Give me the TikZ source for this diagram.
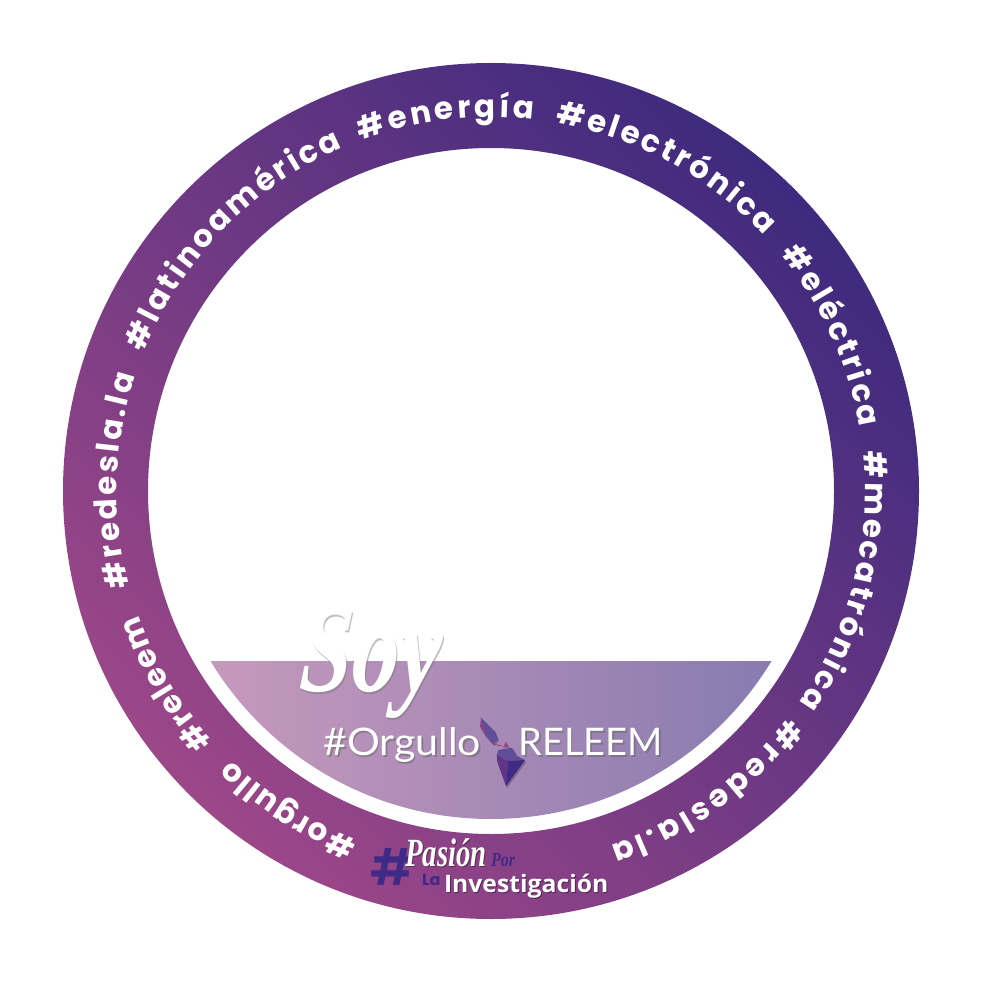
\documentclass[tikz,border=0pt]{standalone}
\usepackage{fontspec}
\setmainfont{Latin Modern Roman}
\newfontfamily\ringfont{Poppins}[UprightFont=* SemiBold,BoldFont=* Bold]
\newfontfamily\capfont{Lato}
\newfontfamily\invfont{Open Sans}
\newfontfamily\soyfont{Liberation Serif}
\usetikzlibrary{calc}
\definecolor{ringdark}{HTML}{3E2A7E}
\definecolor{ringlight}{HTML}{9C4788}
\definecolor{segL}{HTML}{C699BC}
\definecolor{segR}{HTML}{887BB0}
\definecolor{indigoTxt}{HTML}{3F2A85}
\makeatletter
\newlength\rwtotal \newlength\rwone
\newcount\rwn
% \ringword{start angle}{end angle}{letters}: letters are set clockwise on the ring
\newcommand\ringword[3]{%
  \setbox0=\hbox{\pgfinterruptpicture\ringstyle #3\endpgfinterruptpicture}\rwtotal=\wd0
  \rwn=0 \@tfor\rwc:=#3\do{\advance\rwn by 1 }%
  \pgfmathsetmacro\rwarc{(#1-(#2))*3.14159265/180*\ringR}%
  \pgfmathsetmacro\rwtrack{(\rwarc-\rwtotal)/(\the\rwn-1)}%
  \def\rwpos{0}%
  \@tfor\rwc:=#3\do{%
    \setbox0=\hbox{\pgfinterruptpicture\ringstyle\rwc\endpgfinterruptpicture}\rwone=\wd0
    \pgfmathsetmacro\rwang{#1-(\rwpos+0.5*\rwone)/\ringR*180/3.14159265}%
    \node[ringletter,rotate=\rwang-90] at ({491+\ringR*cos(\rwang)},{491-\ringR*sin(\rwang)}) {\rwc};%
    \pgfmathsetmacro\rwpos{\rwpos+\rwone+\rwtrack}%
  }%
}
\makeatother
\newcommand\ringstyle{\ringfont\bfseries\fontsize{31}{31}\selectfont}
\newcommand\ringR{374}
\tikzset{
  ringletter/.style={anchor=base,text=white,inner sep=0pt,outer sep=0pt,font=\ringstyle},
  soft/.style={inner sep=0pt,outer sep=0pt},
}
\begin{document}
\begin{tikzpicture}[x=1pt,y=-1pt]
\useasboundingbox (0,0) rectangle (982,981);
\fill[white] (0,0) rectangle (982,981);
% ring
\shade[even odd rule,shading=axis,left color=ringdark,right color=ringlight,shading angle=-45]
  (491,491) circle[radius=428] (491,491) circle[radius=343];
% lower segment
\begin{scope}
\clip (491,491) circle[radius=328];
\shade[left color=segL,right color=segR,shading=axis,shading angle=90] (211,661) rectangle (771,830);
\end{scope}
% ring text
\ringword{194.8}{162}{\#redesla.la}
\ringword{158.3}{113.3}{\#latinoamérica}
\ringword{110.4}{83.5}{\#energía}
\ringword{80.1}{43}{\#electrónica}
\ringword{39.3}{9.8}{\#eléctrica}
\ringword{6}{-34.6}{\#mecatrónica}
\ringword{-37.3}{-71.4}{\#redesla.la}
\ringword{249.1}{226}{\#orgullo}
\ringword{222}{199.4}{\#releem}
% Soy
\node[soft,text=black!55,opacity=.45,xscale=.75,xslant=.1] (soyS) at (372,666) {\soyfont\bfseries\itshape\fontsize{125}{125}\selectfont Soy};
\node[soft,text=white,xscale=.75,xslant=.1] (soy) at (370.5,664) {\soyfont\bfseries\itshape\fontsize{125}{125}\selectfont Soy};
% #Orgullo RELEEM
\node[soft,anchor=base west,text=black!60,opacity=.5,xscale=1.08] at (325,757) {\capfont\fontsize{38}{38}\selectfont \#Orgullo};
\node[soft,anchor=base west,text=white,xscale=1.08] (org) at (323.5,755.5) {\capfont\fontsize{38}{38}\selectfont \#Orgullo};
\node[soft,anchor=base west,text=black!60,opacity=.5] at (520,757) {\capfont\fontsize{38}{38}\selectfont RELEEM};
\node[soft,anchor=base west,text=white] (rel) at (518.5,755.5) {\capfont\fontsize{38}{38}\selectfont RELEEM};
% map
\fill[black,opacity=.25] (482,719) -- (496,733) -- (499,741) -- (494,746) -- (486,737) -- (481,729) -- cycle;
\fill[black,opacity=.25] (498,757) -- (500,751) -- (513,749) -- (518,757) -- (526,762) -- (507,788) -- (498,764) -- cycle;
\fill[indigoTxt!55!segR] (481,717.7) -- (495,731.7) -- (498.3,739.3) -- (493,744) -- (485,735) -- cycle;
\fill[ringlight!85!indigoTxt] (481,717.7) -- (485,735) -- (493,744) -- (480,726.7) -- cycle;
\draw[ringlight,line width=1pt] (493,744) -- (502,746);
\fill[ringlight] (502.7,747.7) -- (506,741.7) -- (509.3,747.7) -- cycle;
\fill[indigoTxt!55!segR] (496.7,755) -- (498.3,750) -- (511.7,747.7) -- (516.7,755.7) -- (525,760) -- (508,761) -- cycle;
\fill[ringlight!35!indigoTxt] (496.7,755) -- (508,761) -- (506,786) -- (497.3,761.7) -- cycle;
\fill[indigoTxt] (508,761) -- (525,760) -- (506,786) -- cycle;
% logo
\node[soft,text=indigoTxt,anchor=center] (hash) at (393,867) {\ringfont\mdseries\fontsize{50}{50}\selectfont\#};
\node[soft,anchor=base west,text=black,opacity=.35,xscale=.72] at (406,867.5) {\soyfont\bfseries\itshape\fontsize{40}{40}\selectfont Pasión};
\node[soft,anchor=base west,text=white,xscale=.72] (pas) at (405,866) {\soyfont\bfseries\itshape\fontsize{40}{40}\selectfont Pasión};
\node[soft,anchor=base west,text=indigoTxt,xscale=.8] (por) at (491,866) {\soyfont\bfseries\itshape\fontsize{20}{20}\selectfont Por};
\node[soft,anchor=base west,text=indigoTxt] (la) at (422,885) {\ringfont\bfseries\fontsize{16}{16}\selectfont La};
\node[soft,anchor=base west,text=black,opacity=.4,xscale=1.03] at (445,893) {\invfont\bfseries\fontsize{24}{24}\selectfont Investigación};
\node[soft,anchor=base west,text=white,xscale=1.03] (inv) at (444,892) {\invfont\bfseries\fontsize{24}{24}\selectfont Investigación};
\end{tikzpicture}
\end{document}
